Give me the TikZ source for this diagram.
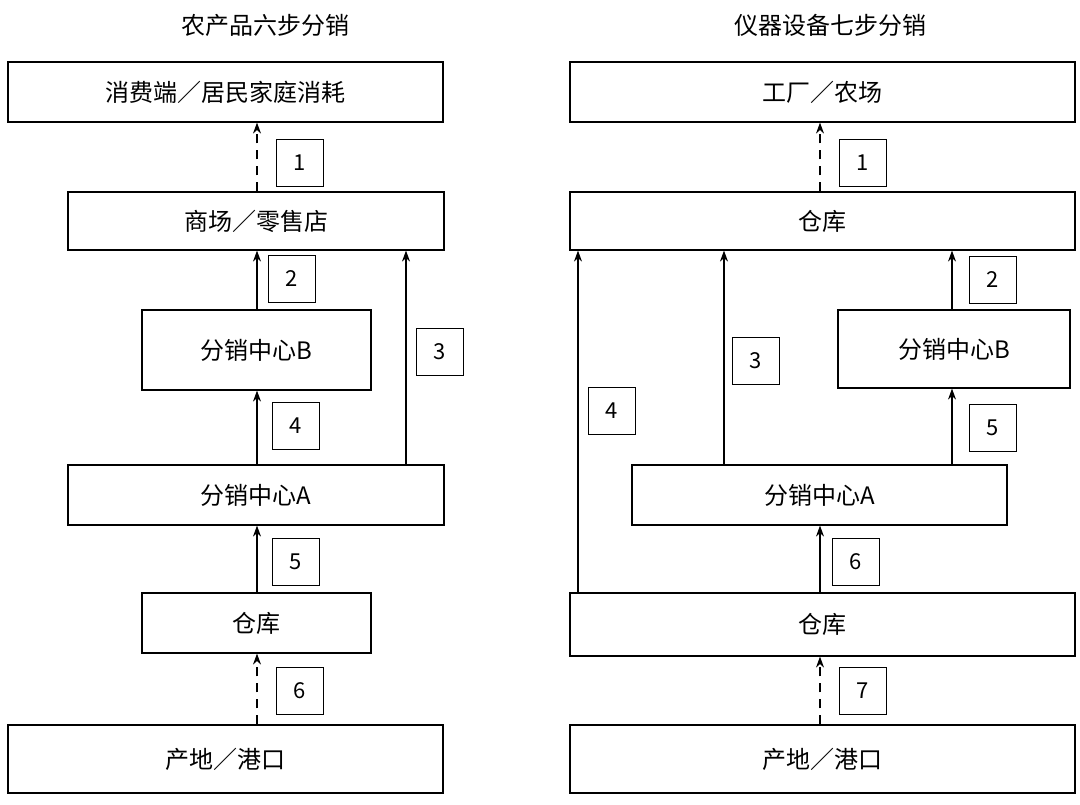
\documentclass[tikz,border=0pt]{standalone}
\usepackage{fontspec}
\setmainfont{Noto Sans CJK SC}
\usetikzlibrary{arrows.meta}
\begin{document}
\begin{tikzpicture}[x=1pt,y=-1pt,
 box/.style={draw,line width=1.2pt,inner sep=0pt,font=\fontsize{24}{28}\selectfont},
 lab/.style={draw,line width=1.2pt,inner sep=0pt,minimum width=47pt,minimum height=47pt,font=\fontsize{22}{26}\selectfont},
 ttl/.style={font=\fontsize{24}{28}\selectfont},
 arr/.style={-{Stealth[length=11pt,width=8pt]},line width=1.2pt},
 darr/.style={arr,dash pattern=on 9pt off 7pt}]
\useasboundingbox (0,0) rectangle (1080,805);
\def\bx#1#2#3#4#5#6{\node[box,minimum width=#4-#2,minimum height=#5-#3] (#1) at ({(#2+#4)/2},{(#3+#5)/2}) {#6};}
\def\lb#1#2#3#4{\node[lab] (#1) at (#2,#3) {#4};}
% left
\node[ttl] (t1) at (265,25) {农产品六步分销};
\bx{L1}{8}{62}{443}{122}{消费端／居民家庭消耗}
\bx{L2}{68}{192}{444}{250}{商场／零售店}
\bx{L3}{142}{310}{371}{390}{分销中心B}
\bx{L4}{68}{465}{444}{525}{分销中心A}
\bx{L5}{142}{593}{371}{653}{仓库}
\bx{L6}{8}{725}{443}{793}{产地／港口}
\draw[darr] (L2.north -| 257,0) -- (L1.south -| 257,0);
\draw[arr] (L3.north -| 257,0) -- (L2.south -| 257,0);
\draw[arr] (L4.north -| 406,0) -- (L2.south -| 406,0);
\draw[arr] (L4.north -| 257,0) -- (L3.south -| 257,0);
\draw[arr] (L5.north -| 257,0) -- (L4.south -| 257,0);
\draw[darr] (L6.north -| 257,0) -- (L5.south -| 257,0);
\lb{a1}{300}{163}{1}
\lb{a2}{292}{279}{2}
\lb{a3}{440}{352}{3}
\lb{a4}{296}{426}{4}
\lb{a5}{296}{562}{5}
\lb{a6}{300}{691}{6}
% right
\node[ttl] (t2) at (830,25) {仪器设备七步分销};
\bx{R1}{570}{62}{1075}{122}{工厂／农场}
\bx{R2}{570}{192}{1075}{250}{仓库}
\bx{R3}{838}{310}{1070}{388}{分销中心B}
\bx{R4}{632}{465}{1007}{525}{分销中心A}
\bx{R5}{570}{593}{1075}{656}{仓库}
\bx{R6}{570}{725}{1075}{793}{产地／港口}
\draw[darr] (R2.north -| 820,0) -- (R1.south -| 820,0);
\draw[arr] (R3.north -| 952,0) -- (R2.south -| 952,0);
\draw[arr] (R4.north -| 724,0) -- (R2.south -| 724,0);
\draw[arr] (R5.north -| 578,0) -- (R2.south -| 578,0);
\draw[arr] (R4.north -| 952,0) -- (R3.south -| 952,0);
\draw[arr] (R5.north -| 820,0) -- (R4.south -| 820,0);
\draw[darr] (R6.north -| 820,0) -- (R5.south -| 820,0);
\lb{b1}{863}{163}{1}
\lb{b2}{993}{280}{2}
\lb{b3}{756}{361}{3}
\lb{b4}{612}{411}{4}
\lb{b5}{993}{428}{5}
\lb{b6}{856}{562}{6}
\lb{b7}{863}{691}{7}
\end{tikzpicture}
\end{document}
